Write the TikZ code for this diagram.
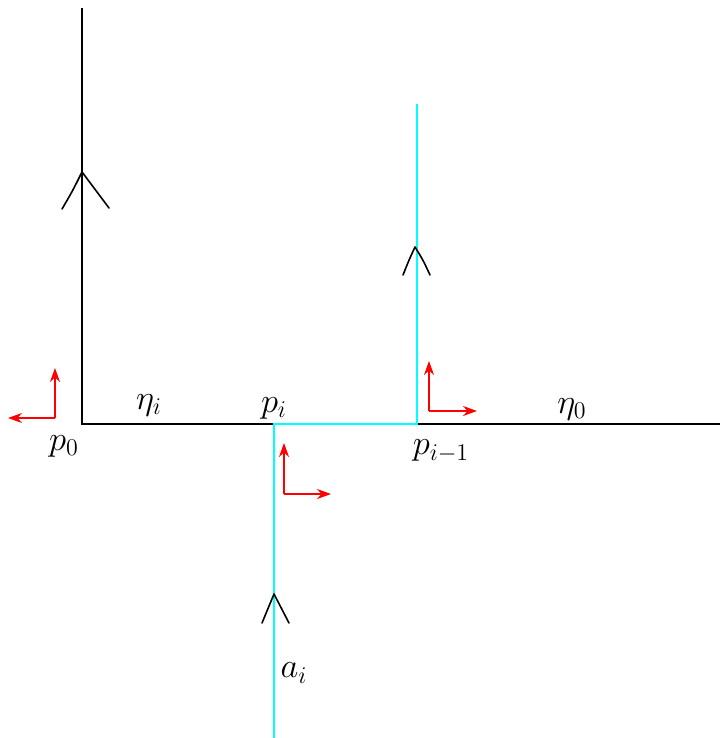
\documentclass[tikz,border=0pt]{standalone}
\usetikzlibrary{arrows.meta}
\definecolor{purecyan}{RGB}{0,255,255}
\definecolor{purered}{RGB}{255,0,0}
\begin{document}
\begin{tikzpicture}[x=0.5pt,y=-0.5pt,
  blk/.style={black,line width=0.75pt},
  cyn/.style={purecyan,line width=1pt},
  hand/.style={black,line width=0.8pt,line cap=round,line join=round},
  frame/.style={purered,line width=0.8pt,-{Stealth[length=7pt,width=5pt]}},
  lbl/.style={inner sep=0pt,font=\fontsize{17}{20}\selectfont}]
\useasboundingbox (0,0) rectangle (720,738);
% coordinates
\coordinate (top0) at (82,8);
\coordinate (P0) at (82,424);
\coordinate (Pi) at (274,424);
\coordinate (Pim) at (417,424);
\coordinate (R) at (720,424);
\coordinate (topc) at (417,104);
\coordinate (botc) at (274,738);
% black lines
\draw[blk] (top0) -- (P0) -- (R);
% cyan lines
\draw[cyn] (botc) -- (Pi) -- (Pim) -- (topc);
% hand-drawn arrowheads
\draw[hand] (62,209) .. controls (72,192) .. (82,172) .. controls (95,190) .. (109,208);
\draw[hand] (403,275) .. controls (409,260) .. (415,247) .. controls (423,260) .. (430,275);
\draw[hand] (262,623) .. controls (268,608) .. (274,594) .. controls (282,608) .. (289,623);
% red frames
\coordinate (f0) at (55,418);
\draw[frame] (f0) -- (55,368);
\draw[frame] (f0) -- (8,418);
\coordinate (f1) at (429,411);
\draw[frame] (f1) -- (429,361);
\draw[frame] (f1) -- (477,411);
\coordinate (f2) at (284,494);
\draw[frame] (f2) -- (284,443);
\draw[frame] (f2) -- (331,494);
% labels
\node[lbl] (etai) at (149,405) {$\eta_i$};
\node[lbl] (pi) at (274,408) {$p_i$};
\node[lbl] (pim1) at (441,451) {$p_{i-1}$};
\node[lbl] (eta0) at (572,409) {$\eta_0$};
\node[lbl] (p0) at (64,446) {$p_0$};
\node[lbl] (ai) at (294,673) {$a_i$};
\end{tikzpicture}
\end{document}
